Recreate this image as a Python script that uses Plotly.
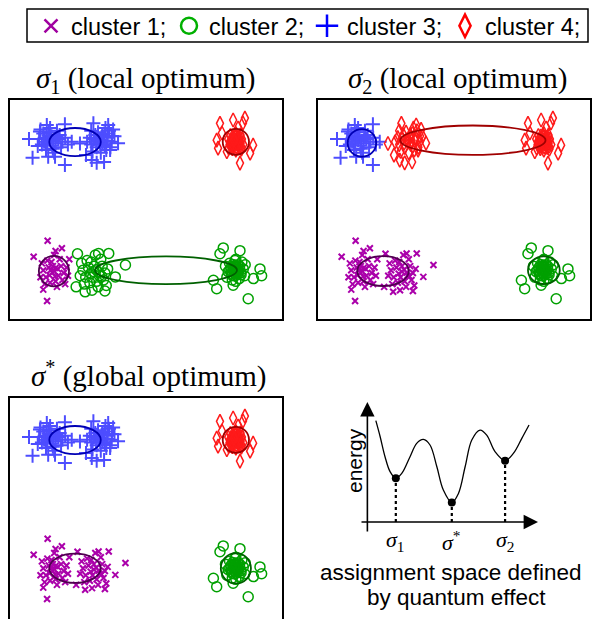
import plotly.graph_objects as go

W, H = 592, 619

# ---------------- data: point blobs (panel units, x 0-10, y 0-8) ----------------
blob_A_left = [(1.50,6.51),(1.30,6.60),(1.70,6.40),(1.20,6.35),(1.85,6.70),(1.45,6.80),(1.60,6.20),
               (1.10,6.55),(1.95,6.45),(1.35,6.15),(1.75,6.85),(1.55,6.65),(1.25,6.75),(1.65,6.05),
               (2.05,6.60),(1.40,6.40),(1.90,6.25),(1.15,6.90),(2.15,6.35),(1.80,6.55),(1.05,6.30),
               (1.50,6.95),(1.62,6.48),(1.38,6.58),(1.28,6.45),(1.72,6.62),(1.58,6.32),(1.45,6.68),
               (0.73,6.55),(0.86,5.87),(1.38,7.06),(1.13,6.82),
               (1.43,5.91),(1.68,5.91),(2.04,7.09),(2.04,5.61),(2.29,6.45)]
blob_A_right = [(3.32,6.44),(3.10,6.55),(3.50,6.30),(3.20,6.25),(3.60,6.60),(3.00,6.35),(3.40,6.70),
                (3.75,6.45),(2.95,6.60),(3.55,6.15),(3.25,6.80),(3.65,6.85),(3.05,6.10),(3.85,6.65),
                (3.45,6.50),(3.15,6.70),(3.70,6.25),(2.85,6.45),(3.35,6.05),(3.80,6.90),(3.52,6.95),
                (3.00,6.85),(3.28,6.52),(3.42,6.36),(3.38,6.62),(3.58,6.48),(3.18,6.40),(3.48,6.75),
                (2.59,6.39),(3.98,6.40),(3.62,7.06),(3.20,5.69),
                (3.02,5.79),(3.08,7.12),(3.76,6.66),(3.47,5.72),(2.81,5.97),(3.69,6.15)]
blob_B = [(8.28,6.45),(8.10,6.50),(8.45,6.40),(8.20,6.30),(8.35,6.60),(8.05,6.35),(8.50,6.55),
          (8.25,6.70),(8.15,6.20),(8.40,6.25),(8.30,6.50),(8.00,6.55),(8.55,6.35),(8.20,6.60),
          (8.38,6.42),(8.12,6.42),(8.28,6.15),(8.28,6.75),(8.45,6.70),(8.08,6.68),(8.48,6.18),
          (8.02,6.22),(8.18,6.55),(8.36,6.33),(8.22,6.38),(8.33,6.55),(8.42,6.50),(8.14,6.28),
          (8.26,6.62),(8.06,6.45),(8.24,6.48),(8.32,6.38),(8.17,6.66),(8.41,6.61),(8.11,6.33),
          (8.47,6.29),(8.29,6.27),(8.21,6.50),
          (7.70,7.12),(8.18,7.24),(8.61,7.31),(7.58,6.51),(7.63,6.22),(8.91,6.33),(8.80,6.04),
          (8.43,5.68),(7.95,6.09),(8.54,7.13),(8.36,6.95),(7.77,6.77)]
blob_C_left = [(1.64,1.77),(1.45,1.90),(1.80,1.60),(1.35,1.55),(1.90,1.95),(1.55,2.10),(1.70,1.40),
               (1.25,1.80),(2.00,1.70),(1.50,1.35),(1.85,2.20),(1.60,1.95),(1.40,2.15),(1.75,1.20),
               (2.10,1.90),(1.30,1.30),(1.95,1.45),(1.20,2.05),(2.05,1.30),(1.65,2.35),(1.48,1.62),
               (1.78,1.85),(1.15,1.55),(2.15,1.60),(1.58,1.72),(1.70,1.88),(1.52,1.80),(1.68,1.58),
               (1.41,2.87),(0.90,2.29),
               (1.39,0.69),(1.93,2.60),(1.70,2.50),(1.25,1.10),(2.20,2.20)]
blob_C_right = [(3.10,1.75),(2.90,1.90),(3.30,1.60),(2.80,1.55),(3.40,1.95),(3.00,2.10),(3.20,1.40),
                (2.70,1.80),(3.50,1.70),(2.95,1.35),(3.35,2.20),(3.10,1.95),(2.85,2.15),(3.25,1.20),
                (3.60,1.85),(2.75,1.30),(3.45,1.45),(2.65,2.05),(3.55,1.25),(3.15,2.35),(3.05,1.55),
                (2.60,1.60),(3.18,1.82),(2.98,1.68),(3.28,1.72),(3.38,1.58),
                (4.25,1.99),(3.88,1.56),(3.50,1.05),(3.64,2.41),
                (3.03,1.08),(2.78,1.02),(3.27,2.41),(2.50,2.40),(2.45,1.20)]
blob_D = [(8.28,1.80),(8.10,1.90),(8.45,1.70),(8.20,1.60),(8.35,2.00),(8.00,1.75),(8.55,1.85),
          (8.25,2.15),(8.15,1.45),(8.40,1.50),(8.30,1.85),(8.05,2.05),(8.60,1.60),(8.20,1.95),
          (8.38,1.78),(8.12,1.68),(8.28,1.40),(8.28,2.20),(8.50,2.10),(7.95,1.55),(8.62,2.00),
          (7.90,1.95),(8.18,1.85),(8.36,1.68),(8.22,1.73),(8.33,1.90),(8.42,1.85),(8.14,1.62),
          (8.26,1.97),(8.06,1.80),(8.24,1.83),(8.32,1.73),(8.17,2.01),(8.41,1.96),(8.11,1.68),
          (8.47,1.64),(8.29,1.62),(8.21,1.85),
          (7.82,2.61),(7.70,2.40),(9.16,1.85),(9.22,1.60),(8.73,0.77),(7.58,1.13),(7.46,1.44),
          (8.43,2.51),(8.92,1.50),(8.18,1.26)]

blobs = {"A_left": blob_A_left, "A_right": blob_A_right, "B": blob_B,
         "C_left": blob_C_left, "C_right": blob_C_right, "D": blob_D}

# cluster assignment of blobs in each panel
assign_sigma1 = {1: ["C_left"], 2: ["C_right", "D"], 3: ["A_left", "A_right"], 4: ["B"]}
assign_sigma2 = {1: ["C_left", "C_right"], 2: ["D"], 3: ["A_left"], 4: ["A_right", "B"]}
assign_star = {1: ["C_left", "C_right"], 2: ["D"], 3: ["A_left", "A_right"], 4: ["B"]}

# cluster ellipses (cx, cy, rx, ry) for clusters 1..4
ell_sigma1 = [(1.64, 1.77, 0.55, 0.55), (5.73, 1.80, 2.59, 0.50), (2.41, 6.44, 0.94, 0.51), (8.28, 6.45, 0.48, 0.47)]
ell_sigma2 = [(2.41, 1.77, 0.94, 0.54), (8.28, 1.80, 0.58, 0.50), (1.64, 6.41, 0.52, 0.50), (5.69, 6.51, 2.65, 0.53)]
ell_star = [(2.41, 1.80, 0.94, 0.53), (8.28, 1.80, 0.55, 0.55), (2.41, 6.44, 0.94, 0.51), (8.28, 6.45, 0.48, 0.47)]

cluster_names = ["cluster 1;", "cluster 2;", "cluster 3;", "cluster 4;"]

# energy landscape
energy_x = [0.47, 0.71, 0.98, 1.26, 1.58, 1.91, 2.37, 2.74, 3.11, 3.48, 3.86, 4.22, 4.69,
            5.06, 5.43, 5.80, 6.26, 6.63, 7.09, 7.65, 8.11, 8.58, 8.98]
energy_y = [5.63, 4.74, 3.63, 2.80, 2.43, 2.70, 3.63, 4.37, 4.59, 4.28, 3.07, 1.78, 1.09,
            1.59, 3.07, 4.56, 5.11, 4.83, 3.91, 3.41, 3.81, 4.65, 5.39]
minima_x = [1.58, 4.69, 7.65]
minima_y = [2.43, 1.09, 3.41]
minima_labels = ["<i>σ</i><sub>1</sub>", "<i>σ</i><sup>*</sup>", "<i>σ</i><sub>2</sub>"]

# ---------------- styles ----------------
pt_style = {
    1: dict(symbol="x-thin", size=6, color="#aa00aa", line=dict(color="#aa00aa", width=2)),
    2: dict(symbol="circle-open", size=10, color="#00a000", line=dict(color="#00a000", width=1.5)),
    3: dict(symbol="cross-thin", size=10, color="#4d4dff", line=dict(color="#4d4dff", width=2)),
    4: dict(symbol="diamond-tall-open", size=10, color="#ff1a1a", line=dict(color="#ff1a1a", width=1.5)),
}
leg_style = {
    1: dict(symbol="x-thin", size=13, color="#a000a0", line=dict(color="#a000a0", width=2.5)),
    2: dict(symbol="circle-open", size=16, color="#00b000", line=dict(color="#00b000", width=2.5)),
    3: dict(symbol="cross-thin", size=16, color="#0000ff", line=dict(color="#0000ff", width=2.5)),
    4: dict(symbol="diamond-tall-open", size=16, color="#ff0000", line=dict(color="#ff0000", width=2.5)),
}
ell_color = {1: "#500050", 2: "#006000", 3: "#0000b4", 4: "#a00000"}

fig = go.Figure()

panels = [("x", "y", assign_sigma1, ell_sigma1),
          ("x2", "y2", assign_sigma2, ell_sigma2),
          ("x3", "y3", assign_star, ell_star)]

shapes = []
for xa, ya, assign, ells in panels:
    for c in [1, 2, 3, 4]:
        xs, ys = [], []
        for b in assign[c]:
            for px, py in blobs[b]:
                xs.append(px)
                ys.append(py)
        fig.add_trace(go.Scatter(x=xs, y=ys, mode="markers", xaxis=xa, yaxis=ya,
                                 marker=pt_style[c], showlegend=False, hoverinfo="skip"))
    for c, (cx, cy, rx, ry) in zip([1, 2, 3, 4], ells):
        shapes.append(dict(type="circle", xref=xa, yref=ya, x0=cx - rx, x1=cx + rx,
                           y0=cy - ry, y1=cy + ry, line=dict(color=ell_color[c], width=1.8)))
    dom_x = "x domain" if xa == "x" else xa + " domain"
    dom_y = "y domain" if ya == "y" else ya + " domain"
    y0 = -0.05 if xa == "x3" else 0
    shapes.append(dict(type="rect", xref=dom_x, yref=dom_y, x0=0, x1=1, y0=y0, y1=1,
                       line=dict(color="black", width=2)))

# legend frame
shapes.append(dict(type="rect", xref="paper", yref="paper", x0=27 / W, x1=588 / W,
                   y0=1 - 42 / H, y1=1 - 9 / H, line=dict(color="black", width=1.5)))

# legend entries
for c in [1, 2, 3, 4]:
    fig.add_trace(go.Scatter(x=[None], y=[None], mode="markers", name=cluster_names[c - 1],
                             marker=leg_style[c], xaxis="x", yaxis="y", showlegend=True))

# energy panel
fig.add_trace(go.Scatter(x=energy_x, y=energy_y, mode="lines", xaxis="x4", yaxis="y4",
                         line=dict(color="black", width=1.3, shape="spline", smoothing=1.0),
                         showlegend=False, hoverinfo="skip"))
for mx, my in zip(minima_x, minima_y):
    fig.add_trace(go.Scatter(x=[mx, mx], y=[0, my], mode="lines", xaxis="x4", yaxis="y4",
                             line=dict(color="black", width=2.2, dash="dot"),
                             showlegend=False, hoverinfo="skip"))
fig.add_trace(go.Scatter(x=minima_x, y=minima_y, mode="markers", xaxis="x4", yaxis="y4",
                         marker=dict(color="black", size=8), showlegend=False, hoverinfo="skip"))

annotations = []
# axis arrows of energy panel
annotations.append(dict(x=0, y=6.67, ax=0, ay=-0.61, xref="x4", yref="y4", axref="x4", ayref="y4",
                        showarrow=True, arrowhead=2, arrowsize=1.8, arrowwidth=1.6, arrowcolor="black", text=""))
annotations.append(dict(x=9.48, y=0, ax=-0.41, ay=0, xref="x4", yref="y4", axref="x4", ayref="y4",
                        showarrow=True, arrowhead=2, arrowsize=1.8, arrowwidth=1.6, arrowcolor="black", text=""))
for mx, lab in zip(minima_x, minima_labels):
    annotations.append(dict(x=mx, y=1 - 541 / H, xref="x4", yref="paper", text=lab, showarrow=False,
                            xanchor="center", yanchor="middle",
                            font=dict(family="Liberation Serif", size=22, color="black")))
annotations.append(dict(x=354 / W, y=3.39, xref="paper", yref="y4", text="energy", textangle=-90,
                        showarrow=False, xanchor="center", yanchor="middle",
                        font=dict(family="Liberation Sans", size=21, color="black")))
annotations.append(dict(x=450 / W, y=1 - 572 / H, xref="paper", yref="paper",
                        text="assignment space defined", showarrow=False, xanchor="center", yanchor="middle",
                        font=dict(family="Liberation Sans", size=22.5, color="black")))
annotations.append(dict(x=456 / W, y=1 - 597 / H, xref="paper", yref="paper",
                        text="by quantum effect", showarrow=False, xanchor="center", yanchor="middle",
                        font=dict(family="Liberation Sans", size=22.5, color="black")))

# panel titles
titles = [("<i>σ</i><sub>1</sub> (local optimum)", 145, 80),
          ("<i>σ</i><sub>2</sub> (local optimum)", 457, 80),
          ("<i>σ</i><sup>*</sup> (global optimum)", 148, 374)]
for txt, cx, cy in titles:
    annotations.append(dict(x=cx / W, y=1 - cy / H, xref="paper", yref="paper", text=txt,
                            showarrow=False, xanchor="center", yanchor="middle",
                            font=dict(family="Liberation Serif", size=29, color="black")))

ax_common = dict(visible=False, showgrid=False, zeroline=False, fixedrange=True)
fig.update_layout(
    width=W, height=H, margin=dict(l=0, r=0, t=0, b=0),
    paper_bgcolor="white", plot_bgcolor="white",
    xaxis=dict(domain=[9 / W, 283 / W], range=[0, 10], **ax_common),
    yaxis=dict(domain=[1 - 320 / H, 1 - 99 / H], range=[0, 8], **ax_common),
    xaxis2=dict(domain=[317 / W, 591 / W], range=[0, 10], **ax_common),
    yaxis2=dict(domain=[1 - 320 / H, 1 - 99 / H], range=[0, 8], **ax_common),
    xaxis3=dict(domain=[9 / W, 283 / W], range=[0, 10], **ax_common),
    yaxis3=dict(domain=[1 / H, 1 - 397 / H], range=[0, 8], **ax_common),
    xaxis4=dict(domain=[360 / W, 540 / W], range=[-0.41, 9.59], **ax_common),
    yaxis4=dict(domain=[1 - 535 / H, 1 - 400 / H], range=[-0.72, 6.78], **ax_common),
    shapes=shapes, annotations=annotations,
    showlegend=True,
    legend=dict(orientation="h", x=31 / W, y=1 - 26 / H, xanchor="left", yanchor="middle",
                borderwidth=0, bgcolor="rgba(0,0,0,0)",
                font=dict(family="Liberation Sans", size=23.5, color="black"),
                itemsizing="trace", entrywidth=93, entrywidthmode="pixels",
                tracegroupgap=0, itemclick=False, itemdoubleclick=False),
)

fig.write_html("out.html", config={"displayModeBar": False},
               post_script="document.body.style.margin='0px';document.body.style.padding='0px';")
